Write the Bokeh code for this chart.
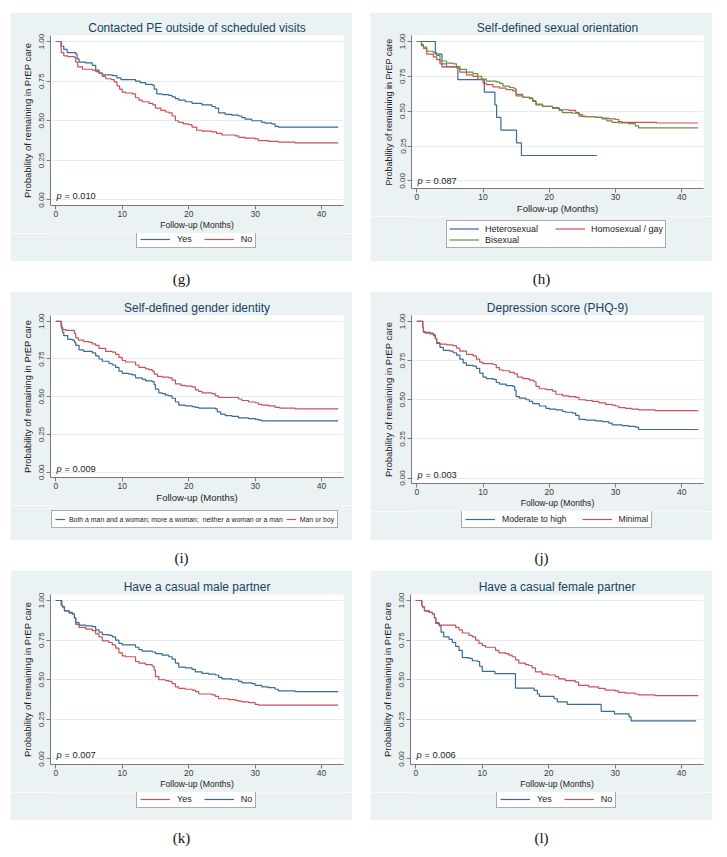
from bokeh.plotting import figure
from bokeh.models import Range1d, FixedTicker, NumeralTickFormatter, Legend, LegendItem, Spacer, Label
from bokeh.layouts import column, row
from bokeh.embed import file_html
from bokeh.resources import INLINE
from bokeh.core.properties import value

# ---------------- data ----------------
X_TICKS = [0, 10, 20, 30, 40]
Y_TICKS = [0, 0.25, 0.5, 0.75, 1.0]

# (g) Contacted PE outside of scheduled visits
g_yes_t = [0, 0.8, 1.2, 1.7, 3.0, 3.2, 3.5, 4.5, 5.5, 6.0, 6.5, 7.0, 8.5, 9.2, 9.8,
           12.0, 12.7, 13.5, 14.5, 14.8, 15.2, 16.0, 17.0, 17.5, 18.0, 18.5, 19.5, 20.5, 22.0, 23.5,
           24.0, 24.5, 25.5, 26.5, 27.5, 28.0, 28.5, 29.5, 31.0, 31.5, 32.5, 33.0, 33.5, 42.5]
g_yes_s = [1.0, 0.97, 0.95, 0.93, 0.92, 0.89, 0.87, 0.865, 0.85, 0.82, 0.80, 0.79, 0.785, 0.77, 0.76,
           0.75, 0.74, 0.73, 0.725, 0.70, 0.67, 0.665, 0.66, 0.65, 0.64, 0.63, 0.62, 0.61, 0.60, 0.59,
           0.58, 0.55, 0.54, 0.535, 0.53, 0.52, 0.51, 0.50, 0.49, 0.485, 0.48, 0.465, 0.46, 0.46]
g_no_t = [0, 0.8, 1.2, 1.8, 2.8, 3.0, 3.3, 4.0, 5.5, 6.0, 6.5, 7.0, 7.5, 8.3, 8.8,
          9.2, 9.6, 10.0, 10.5, 11.5, 12.0, 12.5, 13.0, 14.0, 14.6, 15.0, 15.8, 16.5, 17.0, 17.5,
          18.0, 18.5, 19.2, 20.0, 20.5, 21.2, 22.0, 23.5, 24.2, 25.0, 27.0, 27.5, 28.5, 30.0, 30.5,
          32.0, 33.5, 36.0, 42.5]
g_no_s = [1.0, 0.93, 0.91, 0.905, 0.90, 0.87, 0.84, 0.825, 0.82, 0.81, 0.80, 0.78, 0.765, 0.76, 0.745,
          0.72, 0.70, 0.68, 0.675, 0.67, 0.645, 0.63, 0.62, 0.61, 0.60, 0.58, 0.565, 0.555, 0.55, 0.53,
          0.50, 0.49, 0.48, 0.475, 0.46, 0.44, 0.435, 0.43, 0.42, 0.41, 0.405, 0.395, 0.39, 0.385, 0.375,
          0.37, 0.365, 0.36, 0.36]

# (h) Self-defined sexual orientation
h_het_t = [0, 2.8, 3.8, 6.2, 10.2, 11.8, 12.05, 12.7, 15.06, 15.8, 27.2]
h_het_s = [1.0, 0.909, 0.818, 0.727, 0.636, 0.545, 0.455, 0.364, 0.273, 0.182, 0.182]
h_gay_t = [0, 0.7, 1.0, 1.5, 2.5, 3.0, 3.5, 4.5, 6.0, 6.5, 7.5, 8.5, 9.2, 10.0, 10.5,
           11.5, 12.5, 13.5, 14.5, 15.0, 16.0, 17.0, 17.5, 18.0, 19.0, 20.5, 21.5, 23.0, 24.0, 24.5,
           25.0, 27.0, 28.0, 29.0, 30.0, 30.5, 31.0, 36.2, 42.5]
h_gay_s = [1.0, 0.97, 0.95, 0.91, 0.89, 0.87, 0.84, 0.82, 0.81, 0.78, 0.76, 0.75, 0.73, 0.70, 0.69,
           0.675, 0.665, 0.655, 0.645, 0.61, 0.60, 0.59, 0.57, 0.545, 0.535, 0.525, 0.51, 0.505, 0.49, 0.475,
           0.46, 0.455, 0.45, 0.445, 0.44, 0.425, 0.42, 0.415, 0.415]
h_bi_t = [0, 0.7, 1.0, 1.5, 2.5, 3.0, 3.5, 4.5, 5.5, 6.0, 6.5, 7.5, 8.5, 9.2, 9.8,
          10.5, 12.0, 12.5, 13.0, 14.0, 14.7, 15.0, 16.0, 17.0, 17.5, 18.0, 19.0, 20.5, 21.5, 22.0,
          23.5, 24.5, 25.5, 27.0, 28.0, 28.7, 29.5, 30.5, 32.0, 33.0, 33.5, 42.5]
h_bi_s = [1.0, 0.98, 0.96, 0.93, 0.92, 0.90, 0.86, 0.845, 0.84, 0.82, 0.80, 0.78, 0.77, 0.75, 0.73,
          0.715, 0.71, 0.70, 0.68, 0.67, 0.66, 0.62, 0.60, 0.595, 0.575, 0.55, 0.535, 0.52, 0.505, 0.49,
          0.485, 0.465, 0.46, 0.455, 0.445, 0.43, 0.42, 0.415, 0.41, 0.395, 0.38, 0.38]

# (i) Self-defined gender identity
i_both_t = [0, 0.8, 1.0, 1.2, 1.8, 2.5, 2.8, 3.0, 3.5, 4.2, 5.5, 6.0, 6.5, 7.0, 8.0,
            8.5, 9.0, 9.5, 10.0, 11.0, 11.5, 12.0, 13.0, 13.5, 14.5, 14.8, 15.0, 15.5, 16.0, 16.5,
            17.0, 17.5, 18.0, 18.5, 19.5, 20.5, 21.0, 21.5, 24.0, 24.3, 24.8, 25.5, 26.5, 27.5, 29.0,
            30.0, 30.5, 31.0, 42.5]
i_both_s = [1.0, 0.96, 0.927, 0.905, 0.88, 0.875, 0.86, 0.84, 0.81, 0.80, 0.79, 0.77, 0.75, 0.735, 0.72,
            0.71, 0.695, 0.67, 0.655, 0.65, 0.645, 0.625, 0.615, 0.605, 0.60, 0.58, 0.55, 0.525, 0.52, 0.51,
            0.505, 0.49, 0.465, 0.445, 0.44, 0.435, 0.43, 0.425, 0.42, 0.40, 0.385, 0.375, 0.37, 0.36, 0.355,
            0.35, 0.345, 0.34, 0.34]
i_man_t = [0, 0.8, 0.9, 1.1, 1.5, 2.8, 3.0, 3.4, 4.2, 5.0, 5.5, 6.0, 6.5, 7.5, 8.5,
           9.0, 9.5, 10.0, 10.5, 12.0, 12.5, 13.5, 14.0, 14.5, 14.8, 15.3, 16.0, 17.0, 17.5, 18.0,
           18.8, 19.5, 20.5, 21.0, 21.5, 22.0, 23.5, 24.0, 24.5, 27.5, 28.0, 29.0, 30.0, 30.5, 31.0,
           32.0, 33.0, 33.7, 36.0, 42.5]
i_man_s = [1.0, 0.98, 0.95, 0.945, 0.94, 0.92, 0.89, 0.875, 0.865, 0.86, 0.85, 0.84, 0.82, 0.80, 0.795,
           0.78, 0.76, 0.74, 0.73, 0.71, 0.695, 0.685, 0.68, 0.67, 0.65, 0.635, 0.63, 0.625, 0.61, 0.585,
           0.575, 0.57, 0.565, 0.545, 0.535, 0.525, 0.52, 0.505, 0.495, 0.485, 0.475, 0.465, 0.46, 0.45, 0.445,
           0.44, 0.43, 0.425, 0.42, 0.42]

# (j) Depression score (PHQ-9)
j_mod_t = [0, 0.9, 1.0, 1.3, 2.0, 2.5, 2.8, 3.0, 3.5, 4.0, 5.0, 5.5, 6.0, 6.5, 7.0,
           7.5, 8.5, 9.0, 9.5, 10.0, 10.5, 11.5, 12.0, 12.5, 13.5, 14.5, 14.8, 15.0, 15.5, 16.5,
           17.0, 17.5, 18.5, 19.5, 20.0, 21.0, 22.0, 22.5, 23.5, 24.0, 24.5, 25.5, 27.0, 28.0, 29.0,
           29.5, 31.0, 32.0, 33.0, 33.5, 42.5]
j_mod_s = [1.0, 0.96, 0.935, 0.93, 0.925, 0.915, 0.89, 0.86, 0.835, 0.815, 0.81, 0.80, 0.785, 0.76, 0.735,
           0.72, 0.715, 0.70, 0.67, 0.645, 0.635, 0.63, 0.61, 0.60, 0.59, 0.585, 0.56, 0.52, 0.51, 0.50,
           0.49, 0.475, 0.46, 0.445, 0.44, 0.435, 0.425, 0.42, 0.415, 0.40, 0.375, 0.37, 0.365, 0.36, 0.35,
           0.34, 0.335, 0.33, 0.325, 0.31, 0.31]
j_min_t = [0, 0.9, 1.0, 1.3, 2.0, 2.5, 2.8, 3.0, 3.5, 4.5, 5.5, 6.0, 6.5, 7.5, 8.5,
           9.0, 9.5, 10.0, 11.5, 12.0, 12.5, 13.0, 14.0, 14.7, 15.2, 16.0, 17.0, 17.7, 18.0, 18.5,
           19.5, 20.5, 21.0, 22.0, 23.0, 24.0, 24.5, 25.5, 26.5, 27.5, 28.5, 29.5, 30.0, 30.5, 31.5,
           32.5, 33.5, 36.0, 42.5]
j_min_s = [1.0, 0.96, 0.93, 0.925, 0.92, 0.91, 0.89, 0.865, 0.855, 0.85, 0.845, 0.83, 0.81, 0.79, 0.78,
           0.76, 0.74, 0.73, 0.725, 0.705, 0.69, 0.685, 0.675, 0.665, 0.645, 0.635, 0.625, 0.615, 0.585, 0.57,
           0.565, 0.555, 0.535, 0.525, 0.52, 0.515, 0.50, 0.495, 0.49, 0.48, 0.47, 0.465, 0.46, 0.45, 0.445,
           0.44, 0.435, 0.43, 0.43]

# (k) Have a casual male partner
k_yes_t = [0, 0.8, 1.0, 1.3, 2.0, 2.5, 2.8, 3.0, 3.5, 4.5, 5.5, 6.0, 6.5, 7.0, 8.0,
           8.5, 9.0, 9.5, 10.0, 10.5, 12.0, 12.5, 13.5, 14.5, 14.8, 15.0, 15.5, 16.5, 17.0, 17.5,
           18.0, 18.5, 19.5, 20.5, 21.0, 21.5, 23.5, 24.0, 24.5, 26.0, 27.0, 27.5, 28.0, 29.0, 30.0,
           30.5, 42.5]
k_yes_s = [1.0, 0.97, 0.96, 0.935, 0.92, 0.915, 0.89, 0.85, 0.83, 0.82, 0.81, 0.79, 0.77, 0.745, 0.735,
           0.72, 0.70, 0.67, 0.65, 0.645, 0.615, 0.605, 0.595, 0.585, 0.56, 0.52, 0.50, 0.495, 0.49, 0.475,
           0.455, 0.445, 0.44, 0.435, 0.425, 0.41, 0.405, 0.395, 0.38, 0.375, 0.37, 0.365, 0.36, 0.355, 0.345,
           0.34, 0.34]
k_no_t = [0, 0.9, 1.0, 1.3, 2.0, 2.5, 2.8, 3.0, 3.5, 4.5, 5.5, 6.0, 6.5, 7.0, 8.0,
          8.5, 9.0, 9.5, 10.0, 12.0, 12.5, 13.0, 14.5, 15.0, 16.0, 17.0, 17.5, 18.0, 18.5, 19.5,
          20.5, 21.0, 22.0, 23.0, 24.0, 24.5, 25.0, 26.5, 27.5, 28.0, 29.5, 30.0, 31.0, 32.0, 33.0,
          33.5, 36.0, 42.5]
k_no_s = [1.0, 0.97, 0.96, 0.935, 0.925, 0.915, 0.89, 0.86, 0.845, 0.84, 0.835, 0.815, 0.80, 0.785, 0.78,
          0.77, 0.75, 0.73, 0.72, 0.705, 0.69, 0.68, 0.675, 0.665, 0.655, 0.645, 0.63, 0.605, 0.58, 0.575,
          0.565, 0.55, 0.54, 0.535, 0.53, 0.515, 0.505, 0.50, 0.49, 0.48, 0.475, 0.465, 0.455, 0.45, 0.44,
          0.43, 0.425, 0.425]

# (l) Have a casual female partner
l_yes_t = [0, 0.9, 1.0, 1.3, 2.0, 2.5, 2.8, 3.0, 3.5, 3.8, 4.2, 5.0, 5.5, 6.0, 6.5,
           7.0, 8.0, 8.5, 9.3, 9.6, 10.0, 11.9, 15.0, 17.8, 18.3, 18.6, 20.8, 21.3, 22.8, 27.9,
           29.9, 32.1, 32.4, 42.2]
l_yes_s = [1.0, 0.97, 0.96, 0.935, 0.925, 0.915, 0.89, 0.855, 0.84, 0.80, 0.77, 0.755, 0.735, 0.71, 0.685,
           0.64, 0.635, 0.62, 0.615, 0.585, 0.553, 0.538, 0.447, 0.433, 0.41, 0.395, 0.38, 0.36, 0.345, 0.30,
           0.285, 0.265, 0.24, 0.24]
l_no_t = [0, 0.9, 1.0, 1.3, 2.0, 2.5, 2.8, 3.0, 3.5, 6.0, 6.5, 7.0, 8.0, 8.5, 9.0,
          9.5, 10.0, 10.5, 12.0, 12.5, 13.5, 14.0, 14.5, 15.0, 15.5, 16.5, 17.0, 17.5, 18.0, 19.0,
          20.0, 21.0, 21.5, 22.5, 24.0, 24.5, 26.0, 27.5, 28.5, 30.0, 30.5, 31.5, 33.0, 33.5, 36.0,
          42.5]
l_no_s = [1.0, 0.97, 0.96, 0.935, 0.925, 0.915, 0.89, 0.86, 0.845, 0.83, 0.815, 0.795, 0.78, 0.77, 0.75,
          0.73, 0.715, 0.705, 0.685, 0.67, 0.665, 0.655, 0.645, 0.625, 0.605, 0.595, 0.59, 0.575, 0.55, 0.535,
          0.53, 0.52, 0.505, 0.495, 0.485, 0.465, 0.455, 0.445, 0.435, 0.43, 0.42, 0.415, 0.41, 0.405, 0.40,
          0.40]

titles = ["Contacted PE outside of scheduled visits", "Self-defined sexual orientation",
          "Self-defined gender identity", "Depression score (PHQ-9)",
          "Have a casual male partner", "Have a casual female partner"]
p_values = ["0.010", "0.087", "0.009", "0.003", "0.007", "0.006"]
panel_labels = ["(g)", "(h)", "(i)", "(j)", "(k)", "(l)"]
Y_LABEL = "Probability of remaining in PrEP care"
X_LABEL = "Follow-up (Months)"

# ---------------- style ----------------
BG = "#EAF2F3"
BLUE = "#386B97"
RED = "#CD4F57"
GREEN = "#62913F"
TITLE_C = "#213F5E"
AX_C = "#7A7A7A"
FONT = "Liberation Sans"
BOX_W = 342
GAP = 18
AXIS_BAND = 28


def make_panel(title, series, pval, pval_y, yr, mb, top_h, leg_h, leg_loc, ylab="9.5px", xlab="8.6px",
               leg_font="9px", glyph_w=30, ncols=None, spacing=12, standoff=7, label_w=5,
               label_h=10, pad=3, xr=(-0.8, 43.3)):
    # ---- plot part (title, axes, curves) ----
    p = figure(width=BOX_W, height=top_h, x_range=Range1d(*xr), y_range=Range1d(*yr),
               output_backend="svg", toolbar_location=None,
               min_border_left=mb[0], min_border_right=mb[1], min_border_top=mb[2],
               min_border_bottom=AXIS_BAND)
    p.border_fill_color = BG
    p.background_fill_color = "white"
    p.outline_line_color = None
    p.title.text = title
    p.title.align = "center"
    p.title.text_font = FONT
    p.title.text_font_size = "12px"
    p.title.text_font_style = "normal"
    p.title.text_color = TITLE_C
    p.title.standoff = 1
    p.xgrid.visible = False
    p.xaxis.ticker = FixedTicker(ticks=X_TICKS)
    p.yaxis.ticker = FixedTicker(ticks=Y_TICKS)
    p.ygrid.ticker = FixedTicker(ticks=Y_TICKS)
    p.ygrid.grid_line_color = "#E3ECEE"
    p.ygrid.grid_line_width = 1
    p.yaxis.formatter = NumeralTickFormatter(format="0.00")
    p.yaxis.major_label_orientation = "vertical"
    p.xaxis.axis_label = X_LABEL
    p.yaxis.axis_label = Y_LABEL
    for ax in (p.xaxis[0], p.yaxis[0]):
        ax.axis_line_color = AX_C
        ax.major_tick_line_color = AX_C
        ax.minor_tick_line_color = None
        ax.major_tick_out = 4
        ax.major_tick_in = 0
        ax.major_label_text_font = FONT
        ax.major_label_text_color = "#3A3A3A"
        ax.axis_label_text_font = FONT
        ax.axis_label_text_font_style = "normal"
        ax.axis_label_text_color = "#222222"
    p.xaxis.major_label_standoff = 1
    p.xaxis.axis_label_standoff = 0
    p.yaxis.major_label_standoff = 2
    p.yaxis.axis_label_standoff = 4
    p.xaxis.major_label_text_font_size = "8.5px"
    p.yaxis.major_label_text_font_size = "8px"
    p.xaxis.axis_label_text_font_size = xlab
    p.yaxis.axis_label_text_font_size = ylab

    for t, s, lab, col in series:
        p.step(t, s, mode="after", line_color=col, line_width=1.2)

    p.add_layout(Label(x=0.1, y=pval_y, text="p", text_font=FONT, text_font_style="italic",
                       text_font_size="9.3px", text_baseline="middle", text_color="#222222"))
    p.add_layout(Label(x=0.1, y=pval_y, x_offset=8, text="= " + pval, text_font=FONT,
                       text_font_size="9.3px", text_baseline="middle", text_color="#222222"))

    # ---- legend part (same background; its frame lines up with the plot frame above) ----
    q = figure(width=BOX_W, height=leg_h, x_range=Range1d(1000, 1001), y_range=Range1d(0, 1),
               output_backend="svg", toolbar_location=None, x_axis_type=None, y_axis_type=None,
               title=None, min_border=0)
    q.grid.visible = False
    q.outline_line_color = None
    q.background_fill_color = BG
    q.border_fill_color = BG
    items = []
    for t, s, lab, col in series:
        r = q.step(t, s, mode="after", line_color=col, line_width=1.2)
        items.append(LegendItem(label=lab, renderers=[r]))
    leg = Legend(items=items, orientation="horizontal", location=leg_loc,
                 border_line_color="#555555", border_line_width=1,
                 background_fill_color="white", background_fill_alpha=1.0,
                 label_text_font=FONT, label_text_font_size=leg_font, label_text_color="#222222",
                 glyph_width=glyph_w, glyph_height=label_h, label_height=label_h, label_width=label_w,
                 label_standoff=standoff, spacing=spacing, padding=pad, margin=0)
    if ncols:
        leg.ncols = ncols
    q.add_layout(leg, "center")
    return column(p, q)


def make_strip(labels, height):
    s = figure(width=2 * BOX_W + GAP, height=height, x_range=Range1d(0, 2 * BOX_W + GAP),
               y_range=Range1d(0, height), output_backend="svg", toolbar_location=None,
               x_axis_type=None, y_axis_type=None, title=None, min_border=0)
    s.grid.visible = False
    s.outline_line_color = None
    s.background_fill_color = "white"
    s.border_fill_color = "white"
    s.text(x=[BOX_W / 2, BOX_W + GAP + BOX_W / 2], y=[height - 17] * 2, text=labels,
           text_font=value("Liberation Serif"), text_font_size=value("15px"),
           text_align="center", text_baseline="middle", text_color="#111111")
    return s


YR = (-0.035, 1.038)
pg = make_panel(titles[0], [(g_yes_t, g_yes_s, "Yes", BLUE), (g_no_t, g_no_s, "No", RED)],
                p_values[0], 0.023, YR, (40, 9, 23), 221, 28, (86, 13))
ph = make_panel(titles[1], [(h_het_t, h_het_s, "Heterosexual", BLUE),
                            (h_gay_t, h_gay_s, "Homosexual / gay", RED),
                            (h_bi_t, h_bi_s, "Bisexual", GREEN)],
                p_values[1], 0.0, (-0.055, 1.043), (41, 9, 23), 204, 45, (35, 13),
                ylab="9px", xlab="9.5px",
                ncols=2, spacing=0, standoff=6, label_w=70, label_h=11, pad=2)
pi = make_panel(titles[2], [(i_both_t, i_both_s,
                             "Both a man and a woman; more a woman;  neither a woman or a man", BLUE),
                            (i_man_t, i_man_s, "Man or boy", RED)],
                p_values[2], 0.022, YR, (40, 9, 24), 214, 35, (1, 12), ylab="9.4px", xlab="9.5px",
                leg_font="6.9px", glyph_w=10, spacing=3, standoff=4)
pj = make_panel(titles[3], [(j_mod_t, j_mod_s, "Moderate to high", BLUE),
                            (j_min_t, j_min_s, "Minimal", RED)],
                p_values[3], 0.018, YR, (41, 9, 24), 220, 29, (50, 12), leg_font="8.6px", spacing=15)
pk = make_panel(titles[4], [(k_yes_t, k_yes_s, "Yes", RED), (k_no_t, k_no_s, "No", BLUE)],
                p_values[4], 0.025, YR, (40, 9, 24), 222, 28, (86, 12))
pl = make_panel(titles[5], [(l_yes_t, l_yes_s, "Yes", BLUE), (l_no_t, l_no_s, "No", RED)],
                p_values[5], 0.023, YR, (40, 9, 24), 222, 28, (86, 12))

layout = column(
    Spacer(height=12, width=10),
    row(Spacer(width=10, height=249), pg, Spacer(width=GAP, height=249), ph),
    row(Spacer(width=10, height=30), make_strip(panel_labels[0:2], 30)),
    row(Spacer(width=10, height=249), pi, Spacer(width=GAP, height=249), pj),
    row(Spacer(width=10, height=30), make_strip(panel_labels[2:4], 30)),
    row(Spacer(width=10, height=250), pk, Spacer(width=GAP, height=250), pl),
    row(Spacer(width=10, height=30), make_strip(panel_labels[4:6], 30)),
)

open("out.html", "w").write(file_html(layout, INLINE))
